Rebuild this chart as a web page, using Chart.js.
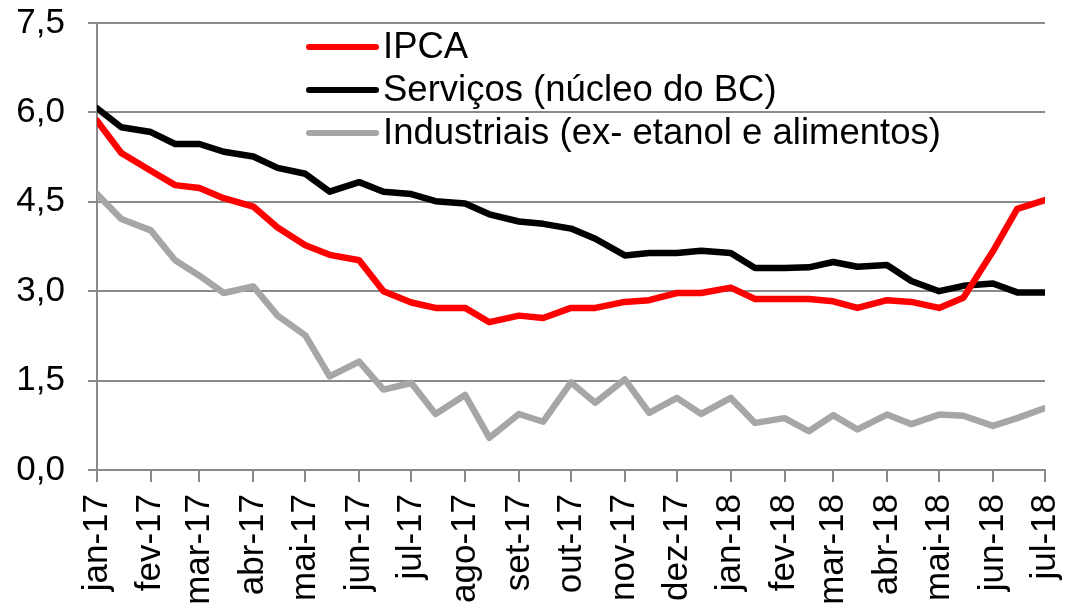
<!DOCTYPE html>
<html>
<head>
<meta charset="utf-8">
<script src="https://cdn.jsdelivr.net/npm/chart.js@4.4.1/dist/chart.umd.min.js"></script>
<style>
  html, body { margin: 0; padding: 0; background: #fff; }
</style>
</head>
<body>
<canvas id="grafico" width="1069" height="610"></canvas>
<script>
// datas: IPCA-15 no dia 1 e IPCA no dia 15 de cada mês
const datas = [
  "2017-01-01", "2017-01-15", "2017-02-01", "2017-02-15", "2017-03-01", "2017-03-15",
  "2017-04-01", "2017-04-15", "2017-05-01", "2017-05-15", "2017-06-01", "2017-06-15",
  "2017-07-01", "2017-07-15", "2017-08-01", "2017-08-15", "2017-09-01", "2017-09-15",
  "2017-10-01", "2017-10-15", "2017-11-01", "2017-11-15", "2017-12-01", "2017-12-15",
  "2018-01-01", "2018-01-15", "2018-02-01", "2018-02-15", "2018-03-01", "2018-03-15",
  "2018-04-01", "2018-04-15", "2018-05-01", "2018-05-15", "2018-06-01", "2018-06-15",
  "2018-07-01", "2018-07-15"
];

const rotulos = [
  "jan-17", "fev-17", "mar-17", "abr-17", "mai-17", "jun-17", "jul-17", "ago-17", "set-17",
  "out-17", "nov-17", "dez-17", "jan-18", "fev-18", "mar-18", "abr-18", "mai-18", "jun-18", "jul-18"
];

const ipca = [
  5.86, 5.32, 5.02, 4.78, 4.73, 4.56, 4.42, 4.07, 3.77, 3.61, 3.52, 3.00, 2.81, 2.72, 2.72, 2.48,
  2.59, 2.55, 2.72, 2.72, 2.82, 2.85, 2.97, 2.97, 3.06, 2.87, 2.87, 2.87, 2.83, 2.72, 2.85, 2.82,
  2.72, 2.89, 3.67, 4.38, 4.53, 4.48
];

const servicos = [
  6.07, 5.75, 5.67, 5.47, 5.47, 5.34, 5.26, 5.07, 4.97, 4.67, 4.83, 4.67, 4.63, 4.51, 4.47, 4.29,
  4.17, 4.13, 4.05, 3.88, 3.60, 3.64, 3.64, 3.68, 3.64, 3.39, 3.39, 3.40, 3.49, 3.41, 3.44, 3.17,
  3.00, 3.09, 3.13, 2.98, 2.98, 2.85
];

const industriais = [
  4.63, 4.21, 4.02, 3.52, 3.26, 2.97, 3.08, 2.59, 2.26, 1.57, 1.82, 1.35, 1.46, 0.94, 1.26, 0.54,
  0.94, 0.81, 1.47, 1.13, 1.52, 0.96, 1.21, 0.94, 1.21, 0.79, 0.87, 0.65, 0.92, 0.68, 0.93, 0.77,
  0.93, 0.91, 0.74, 0.87, 1.04, 1.06
];

const fonte = "'Liberation Sans', Arial, sans-serif";
const cinzaGrade = "#8a8a8a";

// dias desde 01/01/2017
function dia(s) {
  const [a, m, d] = s.split("-").map(Number);
  return (Date.UTC(a, m - 1, d) - Date.UTC(2017, 0, 1)) / 86400000;
}

const xs = datas.map(dia);
const marcas = datas.filter(d => d.endsWith("-01")).map(dia);

const serie = (label, valores, cor) => ({
  label,
  data: valores.map((v, i) => ({ x: xs[i], y: v })),
  borderColor: cor,
  backgroundColor: cor,
  borderWidth: 6.5,
  pointRadius: 0,
  tension: 0,
  fill: false,
  borderJoinStyle: "round",
  borderCapStyle: "round"
});

// legenda desenhada dentro da área do gráfico
const legendaInterna = {
  id: "legendaInterna",
  afterDatasetsDraw(chart) {
    const ctx = chart.ctx;
    ctx.save();
    ctx.font = "36.5px " + fonte;
    ctx.textBaseline = "middle";
    ctx.lineCap = "round";
    chart.data.datasets.forEach((ds, i) => {
      const y = 47 + i * 43;
      ctx.strokeStyle = ds.borderColor;
      ctx.lineWidth = 6;
      ctx.beginPath();
      ctx.moveTo(309, y);
      ctx.lineTo(376, y);
      ctx.stroke();
      ctx.fillStyle = "#000";
      ctx.fillText(ds.label, 383, y + 1);
    });
    ctx.restore();
  }
};

new Chart(document.getElementById("grafico"), {
  type: "line",
  data: {
    datasets: [
      serie("IPCA", ipca, "#ff0000"),
      serie("Serviços (núcleo do BC)", servicos, "#000000"),
      serie("Industriais (ex- etanol e alimentos)", industriais, "#a6a6a6")
    ]
  },
  options: {
    responsive: false,
    animation: false,
    devicePixelRatio: 1,
    layout: { padding: { top: 23, right: 24, left: 0, bottom: 0 } },
    plugins: {
      legend: { display: false },
      tooltip: { enabled: false }
    },
    scales: {
      x: {
        type: "linear",
        min: marcas[0],
        max: marcas[marcas.length - 1],
        afterBuildTicks: axis => { axis.ticks = marcas.map(v => ({ value: v })); },
        afterFit: scale => {
          scale.height = 140;
          scale.paddingLeft = 0;
          scale.paddingRight = 0;
        },
        grid: { drawOnChartArea: false, drawTicks: true, tickLength: 12, color: cinzaGrade, lineWidth: 2 },
        border: { display: true, color: cinzaGrade, width: 2 },
        ticks: {
          autoSkip: false,
          minRotation: 90,
          maxRotation: 90,
          padding: 12,
          color: "#000",
          font: { family: fonte, size: 35 },
          callback: v => rotulos[marcas.indexOf(v)]
        }
      },
      y: {
        min: 0,
        max: 7.5,
        afterFit: scale => {
          scale.width = 97;
          scale.paddingTop = 0;
          scale.paddingBottom = 0;
        },
        grid: { color: cinzaGrade, lineWidth: 2, tickLength: 9 },
        border: { display: true, color: cinzaGrade, width: 2 },
        ticks: {
          stepSize: 1.5,
          padding: 23,
          color: "#000",
          font: { family: fonte, size: 35 },
          callback: v => v.toFixed(1).replace(".", ",")
        }
      }
    }
  },
  plugins: [legendaInterna]
});
</script>
</body>
</html>
